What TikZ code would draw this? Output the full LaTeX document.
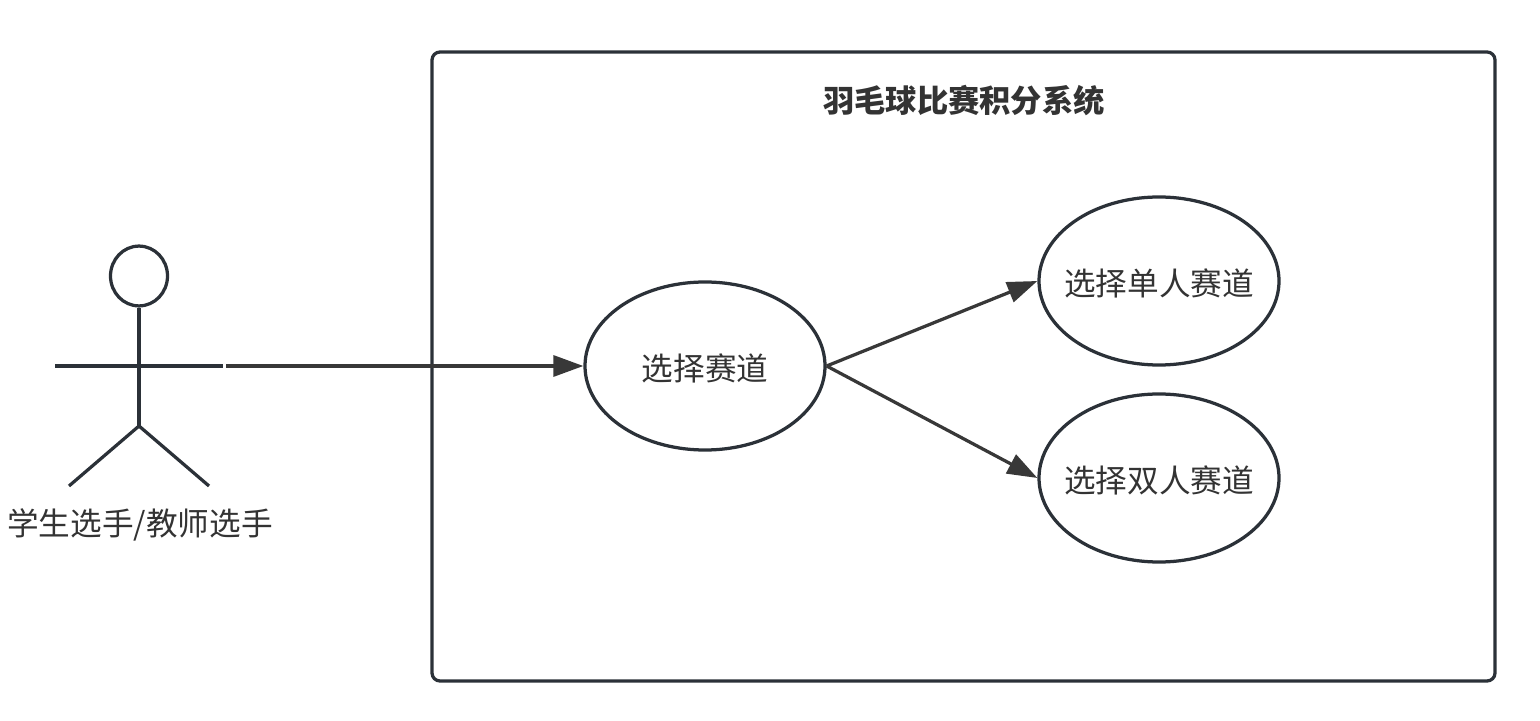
\documentclass[tikz,border=0pt]{standalone}
\usepackage{fontspec}
\setmainfont{Noto Sans CJK SC}
\usepackage{xcolor}
\usetikzlibrary{arrows.meta,shapes.geometric}
\definecolor{outline}{HTML}{2B3138}
\definecolor{flow}{HTML}{383838}
\definecolor{label}{HTML}{333333}
\tikzset{
  usecase/.style={ellipse,draw=outline,line width=1.85pt,minimum width=4.8cm,minimum height=3.36cm,inner sep=-0.8cm,text height=0.7cm,text depth=0.12cm,text=label,font=\fontsize{18}{20}\selectfont},
  actorline/.style={draw=outline,line width=1.85pt},
  flowline/.style={draw=flow,line width=1.85pt,-{Triangle[length=0.6cm,width=0.42cm]}}
}
\begin{document}
\begin{tikzpicture}
  \useasboundingbox (0,0) rectangle (30.8,14.4);
  % 系统边界
  \node[draw=outline,line width=1.85pt,rounded corners=0.16cm,minimum width=21.26cm,minimum height=12.58cm,inner sep=0pt] (system) at (19.27,7.07) {};
  \node[font=\bfseries\fontsize{17.8}{20}\selectfont,text=label] (title) at (19.28,12.38) {羽毛球比赛积分系统};
  % 用例
  \node[usecase] (track) at (14.1,7.08) {选择赛道};
  \node[usecase] (single) at (23.18,8.78) {选择单人赛道};
  \node[usecase] (double) at (23.18,4.84) {选择双人赛道};
  % 参与者
  \node[circle,actorline,minimum size=1.14cm,inner sep=0pt,yscale=1.05] (head) at (2.78,8.88) {};
  \coordinate (hip) at (2.78,5.88);
  \coordinate (armL) at (1.1,7.08);
  \coordinate (armR) at (4.46,7.08);
  \coordinate (footL) at (1.38,4.68);
  \coordinate (footR) at (4.18,4.68);
  \draw[actorline] (head.south) -- (hip);
  \draw[actorline] (armL) -- (armR);
  \draw[actorline] (footL) -- (hip) -- (footR);
  \node[text=label,font=\fontsize{18}{20}\selectfont] (actor) at (2.8,3.9) {学生选手/教师选手};
  % 连线
  \coordinate (start) at (4.52,7.08);
  \draw[flowline] (start) -- (track.west);
  \draw[flowline] (track.east) -- (single.west);
  \draw[flowline] (track.east) -- (double.west);
\end{tikzpicture}
\end{document}
